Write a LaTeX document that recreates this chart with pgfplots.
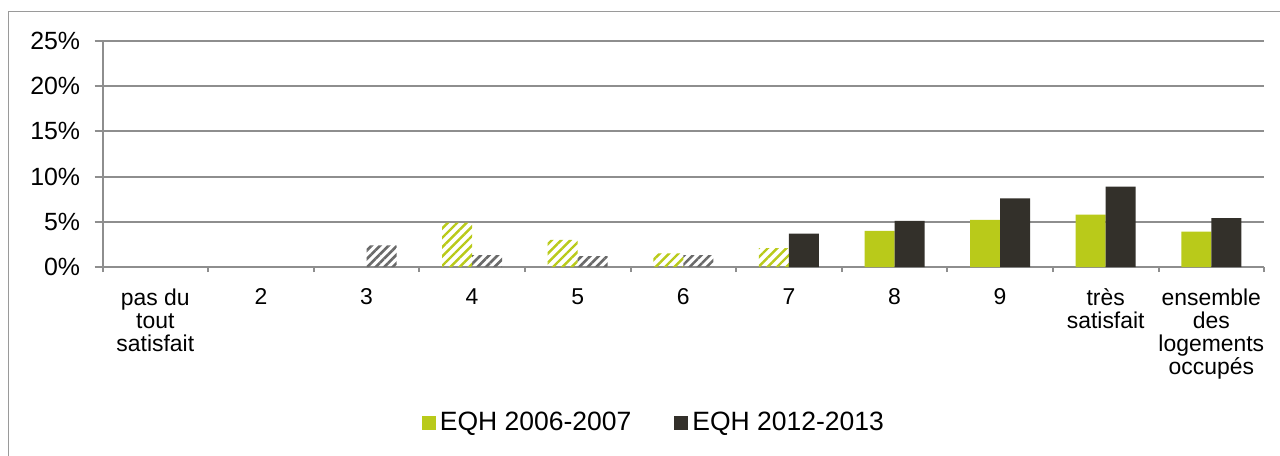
\documentclass[border=0pt]{standalone}
\usepackage{fontspec}
\setmainfont{Liberation Sans}
\usepackage{pgfplots}
\pgfplotsset{compat=1.18}
\usetikzlibrary{patterns.meta}
\definecolor{eqhgreen}{HTML}{B9CA1A}
\definecolor{eqhdark}{HTML}{33302A}
\definecolor{gridgray}{HTML}{8E8E8E}
\definecolor{framegray}{HTML}{9A9A9A}
\definecolor{hatchgray}{HTML}{6A6A6A}
\begin{document}
\begin{tikzpicture}
\useasboundingbox (0,0) rectangle (640bp,228bp);
\draw[framegray, line width=0.8bp] (4.15bp,-5bp) rectangle (650bp,222.15bp);
\begin{axis}[
  at={(51.25bp,94.5bp)}, anchor=south west,
  scale only axis, width=580.8bp, height=113bp,
  xmin=-0.5, xmax=10.5, ymin=0, ymax=25,
  axis x line*=bottom, axis y line*=left,
  x axis line style={draw=gridgray, line width=1bp},
  y axis line style={draw=gridgray, line width=1bp},
  ytick={0,5,...,25},
  yticklabel={\pgfmathprintnumber{\tick}\%},
  /pgf/number format/assume math mode=true,
  yticklabel style={font=\fontsize{12.5}{14}\selectfont, anchor=east, inner sep=0pt, xshift=-7bp},
  ymajorgrids, major grid style={draw=gridgray, line width=1bp},
  ytick style={draw=gridgray, line width=1bp},
  tick align=outside, major tick length=4bp,
  xtick={0,...,10},
  xticklabels={{pas du\\tout\\satisfait},2,3,4,5,6,7,8,9,{très\\satisfait},{ensemble\\des\\logements\\occupés}},
  xticklabel style={font=\fontsize{11.5}{11.7}\selectfont, align=center, anchor=north, inner sep=0pt, yshift=-6.5bp},
  xtick style={draw=none},
  extra x ticks={-0.5,0.5,...,10.5},
  extra x tick labels={},
  extra x tick style={xtick style={draw=gridgray, line width=1bp}, major tick length=2.5bp, tick align=outside},
  legend style={draw=none, fill=none, at={(0.4756,-0.69)}, anchor=center,
    font=\fontsize{13.3}{15}\selectfont, legend columns=2,
    /tikz/every even column/.append style={column sep=19.5bp},
    inner sep=0pt},
  legend image code/.code={\fill[#1] (0bp,-3.5bp) rectangle (7bp,3.5bp);},
  clip=false,
]
% hatched (low-score) bars
\addplot[ybar, bar width=15bp, bar shift=-7.5bp, draw=none,
  pattern={Lines[angle=45,distance=3.3bp,line width=1.2bp]}, pattern color=eqhgreen, forget plot]
  coordinates {(3,4.9) (4,3.0) (5,1.5) (6,2.1)};
\addplot[ybar, bar width=15bp, bar shift=7.5bp, draw=none,
  pattern={Lines[angle=45,distance=3.0bp,line width=1.3bp]}, pattern color=hatchgray, forget plot]
  coordinates {(2,2.4) (3,1.3) (4,1.2) (5,1.3)};
% solid bars
\addplot[ybar, bar width=15bp, bar shift=-7.5bp, draw=none, fill=eqhgreen]
  coordinates {(7,4.0) (8,5.2) (9,5.8) (10,3.9)};
\addlegendentry{EQH 2006-2007}
\addplot[ybar, bar width=15bp, bar shift=7.5bp, draw=none, fill=eqhdark]
  coordinates {(6,3.7) (7,5.1) (8,7.6) (9,8.9) (10,5.4)};
\addlegendentry{EQH 2012-2013}
\end{axis}
\end{tikzpicture}
\end{document}
